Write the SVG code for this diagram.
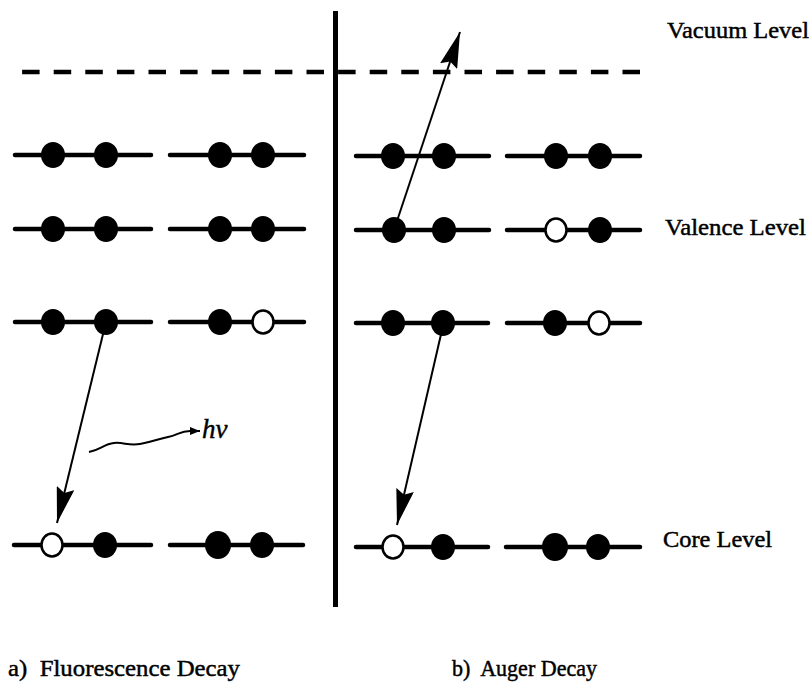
<svg xmlns="http://www.w3.org/2000/svg" width="812" height="682" viewBox="0 0 812 682">
<defs>
<style>
.lv{stroke:#000;stroke-width:4.5;stroke-linecap:round;fill:none}
.f{fill:#000}
.o{fill:#fff;stroke:#000;stroke-width:2.5}
.ar{stroke:#000;stroke-width:2;fill:none}
.t{font-family:"Liberation Serif","Times New Roman",serif;font-size:23px;fill:#000;stroke:#000;stroke-width:0.45}
</style>
<marker id="ah" viewBox="0 0 36 18" refX="36" refY="9" markerWidth="36" markerHeight="18" markerUnits="userSpaceOnUse" orient="auto">
<path d="M0,0 L36,9 L0,18 L5,9 Z" fill="#000"/>
</marker>
<marker id="sh" viewBox="0 0 10 8" refX="10" refY="4" markerWidth="10" markerHeight="8" markerUnits="userSpaceOnUse" orient="auto">
<path d="M0,0 L10,4 L0,8 Z" fill="#000"/>
</marker>
</defs>
<rect width="812" height="682" fill="#fff"/>
<g id="divider">
<line x1="335.5" y1="11" x2="335.5" y2="607" stroke="#000" stroke-width="5"/>
<line x1="640" y1="72" x2="22" y2="72" stroke="#000" stroke-width="4.5" stroke-dasharray="17.5 14.1"/>
</g>
<g id="fluorescence-levels">
<g id="a-v1"><line class="lv" x1="15" y1="155" x2="151" y2="155"/><ellipse class="f" cx="53" cy="155" rx="12" ry="13"/><ellipse class="f" cx="106" cy="155" rx="12" ry="13"/></g>
<g id="a-v1b"><line class="lv" x1="170" y1="155" x2="304" y2="155"/><ellipse class="f" cx="220" cy="155" rx="12" ry="13"/><ellipse class="f" cx="263" cy="155" rx="12" ry="13"/></g>
<g id="a-v2"><line class="lv" x1="15" y1="229" x2="151" y2="229"/><ellipse class="f" cx="53" cy="229" rx="12" ry="13"/><ellipse class="f" cx="106" cy="229" rx="12" ry="13"/></g>
<g id="a-v2b"><line class="lv" x1="170" y1="229" x2="304" y2="229"/><ellipse class="f" cx="220" cy="229" rx="12" ry="13"/><ellipse class="f" cx="263" cy="229" rx="12" ry="13"/></g>
<g id="a-v3"><line class="lv" x1="15" y1="322" x2="151" y2="322"/><ellipse class="f" cx="53" cy="322" rx="12" ry="13"/><ellipse class="f" cx="106" cy="322" rx="12" ry="13"/></g>
<g id="a-v3b"><line class="lv" x1="170" y1="322" x2="304" y2="322"/><ellipse class="f" cx="220" cy="322" rx="12" ry="13"/><ellipse class="o" cx="263" cy="322" rx="10.5" ry="11.5"/></g>
<g id="a-core"><line class="lv" x1="14" y1="545" x2="151" y2="545"/><ellipse class="o" cx="52" cy="545" rx="10.5" ry="11.5"/><ellipse class="f" cx="105" cy="545" rx="12" ry="13"/></g>
<g id="a-coreb"><line class="lv" x1="170" y1="545" x2="303" y2="545"/><ellipse class="f" cx="218" cy="545" rx="13" ry="14"/><ellipse class="f" cx="262" cy="545" rx="12" ry="13"/></g>
</g>
<g id="auger-levels">
<g id="b-v1"><line class="lv" x1="356" y1="156" x2="489" y2="156"/><ellipse class="f" cx="393" cy="156" rx="12" ry="13"/><ellipse class="f" cx="444" cy="156" rx="12" ry="13"/></g>
<g id="b-v1b"><line class="lv" x1="507" y1="156" x2="640" y2="156"/><ellipse class="f" cx="556" cy="156" rx="12" ry="13"/><ellipse class="f" cx="600" cy="156" rx="12" ry="13"/></g>
<g id="b-v2"><line class="lv" x1="356" y1="230" x2="489" y2="230"/><ellipse class="f" cx="394" cy="230" rx="12" ry="13"/><ellipse class="f" cx="444" cy="230" rx="12" ry="13"/></g>
<g id="b-v2b"><line class="lv" x1="507" y1="230" x2="640" y2="230"/><ellipse class="o" cx="556" cy="230" rx="10.5" ry="11.5"/><ellipse class="f" cx="600" cy="230" rx="12" ry="13"/></g>
<g id="b-v3"><line class="lv" x1="356" y1="323" x2="488" y2="323"/><ellipse class="f" cx="393" cy="323" rx="12" ry="13"/><ellipse class="f" cx="443" cy="323" rx="12" ry="13"/></g>
<g id="b-v3b"><line class="lv" x1="507" y1="323" x2="640" y2="323"/><ellipse class="f" cx="555" cy="323" rx="12" ry="13"/><ellipse class="o" cx="599" cy="323" rx="10.5" ry="11.5"/></g>
<g id="b-core"><line class="lv" x1="356" y1="547" x2="488" y2="547"/><ellipse class="o" cx="393" cy="547" rx="10.5" ry="11.5"/><ellipse class="f" cx="443" cy="547" rx="12" ry="13"/></g>
<g id="b-coreb"><line class="lv" x1="506" y1="547" x2="640" y2="547"/><ellipse class="f" cx="555" cy="547" rx="13" ry="14"/><ellipse class="f" cx="598" cy="547" rx="12" ry="13"/></g>
</g>
<g id="connectors">
<line class="ar" x1="104" y1="330" x2="57" y2="523" marker-end="url(#ah)"/>
<line class="ar" x1="442" y1="330" x2="397" y2="525" marker-end="url(#ah)"/>
<line class="ar" x1="396" y1="224" x2="460" y2="32" marker-end="url(#ah)"/>
<path class="ar" d="M89,452 C100,450 104,444 114,443 C124,442 128,446 140,444 C152,442 158,439 168,437 C178,435 180,431 190,431 L200,431" stroke-width="2.5" marker-end="url(#sh)"/>
</g>
<g id="labels">
<text class="t" x="202" y="438" font-style="italic" style="font-size:27px">hν</text>
<text class="t" x="667" y="38" textLength="142" lengthAdjust="spacingAndGlyphs">Vacuum Level</text>
<text class="t" x="665" y="235" textLength="141" lengthAdjust="spacingAndGlyphs">Valence Level</text>
<text class="t" x="663" y="547" textLength="109" lengthAdjust="spacingAndGlyphs">Core Level</text>
<text class="t" x="8" y="676" textLength="232" lengthAdjust="spacingAndGlyphs" xml:space="preserve">a)  Fluorescence Decay</text>
<text class="t" x="452" y="676" textLength="145" lengthAdjust="spacingAndGlyphs" xml:space="preserve">b)  Auger Decay</text>
</g>
</svg>
